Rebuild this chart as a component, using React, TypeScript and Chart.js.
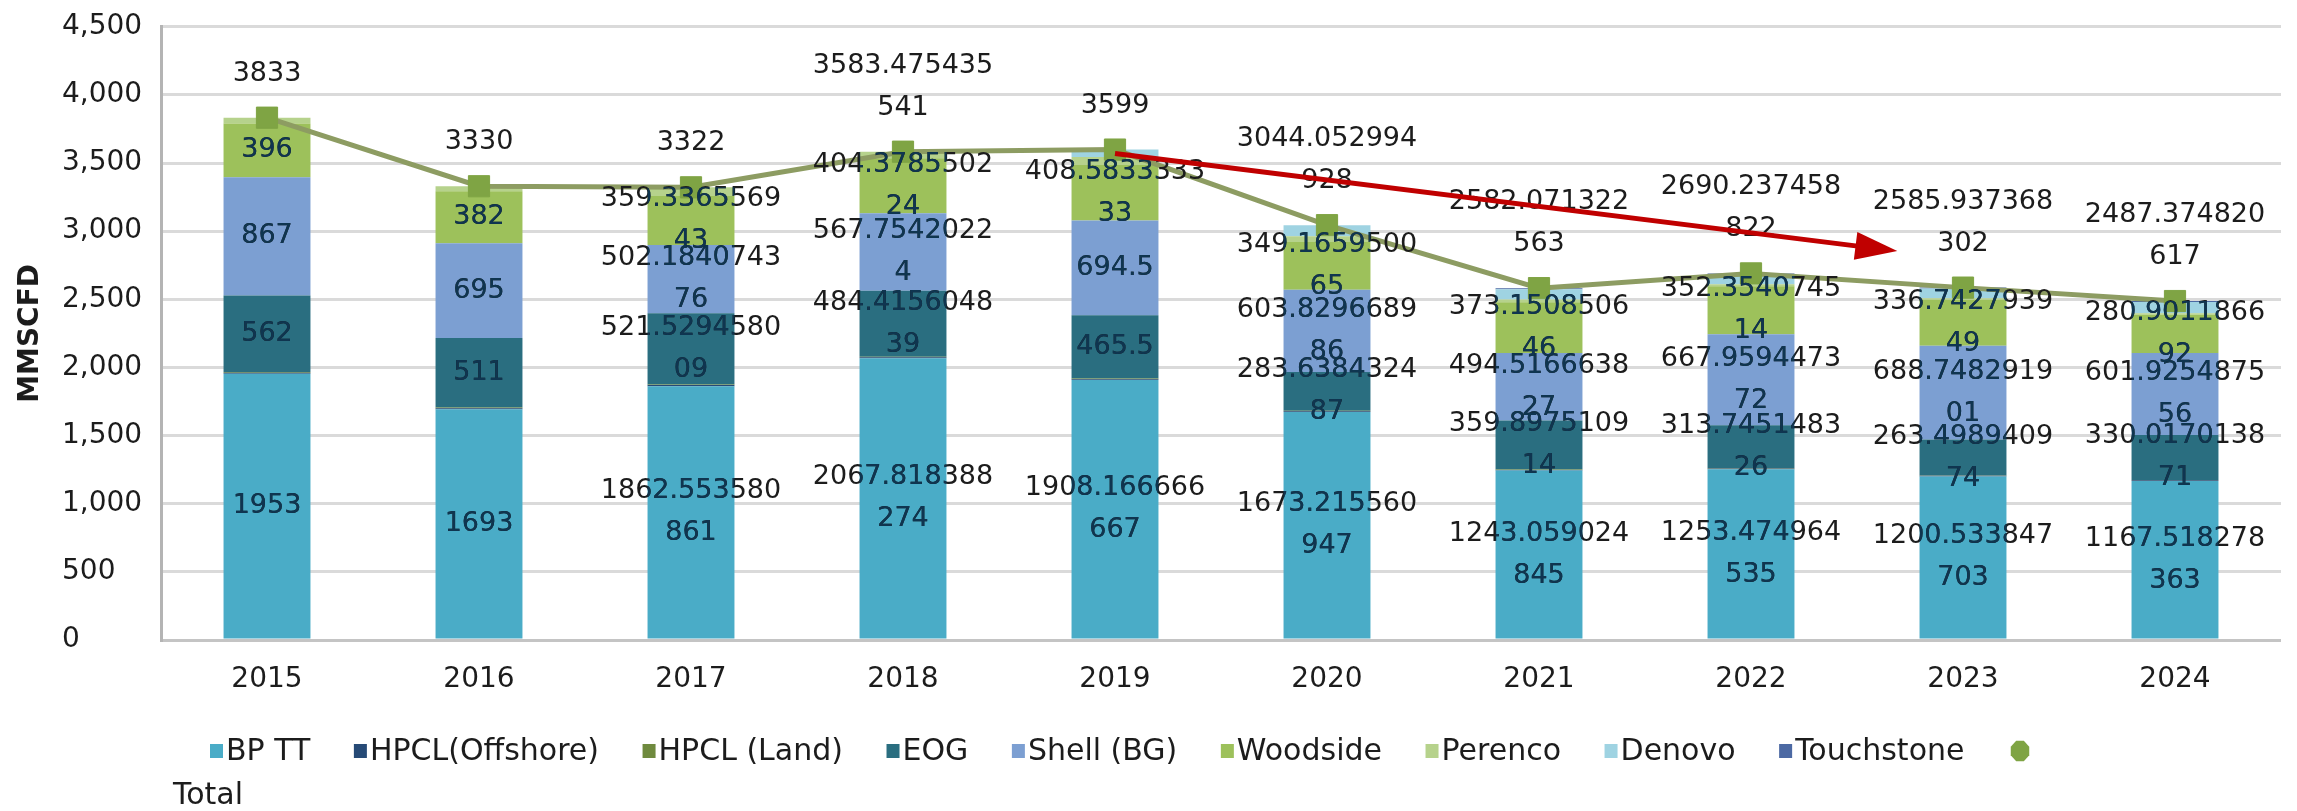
import { useEffect, useRef } from 'react';
import { Chart, registerables } from 'chart.js';

Chart.register(...registerables);

const YEARS = ['2015', '2016', '2017', '2018', '2019', '2020', '2021', '2022', '2023', '2024'];
const BP_TT = [1953, 1693, 1862.553580861, 2067.818388274, 1908.166666667, 1673.215560947, 1243.059024845, 1253.474964535, 1200.533847703, 1167.518278363];
const HPCL_OFFSHORE = [8, 8, 8, 7, 6, 6, 5, 5, 4, 4];
const HPCL_LAND = [5, 5, 5, 4, 4, 4, 3, 3, 3, 3];
const EOG = [562, 511, 521.529458009, 484.415604839, 465.5, 283.638432487, 359.897510914, 313.745148326, 263.498940974, 330.017013871];
const SHELL_BG = [867, 695, 502.184074376, 567.75420224, 694.5, 603.829668986, 494.516663827, 667.959447372, 688.748291901, 601.925487556];
const WOODSIDE = [396, 382, 359.336556943, 404.378550224, 408.583333333, 349.165950065, 373.150850646, 352.354074514, 336.742793949, 280.901186692];
const PERENCO = [42, 36, 63.4, 48.1, 57, 44, 20, 15, 12, 10];
const DENOVO = [0, 0, 0, 0, 55, 80.2, 75.4, 71.7, 70.4, 82.5];
const TOUCHSTONE = [0, 0, 0, 0, 0, 0, 8, 8, 7, 7.5];
const TOTAL = [3833, 3330, 3322, 3583.475435541, 3599, 3044.052994928, 2582.071322563, 2690.237458822, 2585.937368302, 2487.374820617];

const Y_TICKS = [0, 500, 1000, 1500, 2000, 2500, 3000, 3500, 4000, 4500];
const Y_TITLE = 'MMSCFD';

// trend arrow annotation in data space: [category index, value]
const ARROW_FROM = [4.0, 3570];
const ARROW_TO = [7.69, 2854];

const SERIES = [
  { label: 'BP TT', data: BP_TT, color: '#4aacc7', labelled: true },
  { label: 'HPCL(Offshore)', data: HPCL_OFFSHORE, color: '#264a76', labelled: false },
  { label: 'HPCL (Land)', data: HPCL_LAND, color: '#6f8a3e', labelled: false },
  { label: 'EOG', data: EOG, color: '#2a6e80', labelled: true },
  { label: 'Shell (BG)', data: SHELL_BG, color: '#7c9fd2', labelled: true },
  { label: 'Woodside', data: WOODSIDE, color: '#9dc15b', labelled: true },
  { label: 'Perenco', data: PERENCO, color: '#b6d28c', labelled: false },
  { label: 'Denovo', data: DENOVO, color: '#9fd3e2', labelled: false },
  { label: 'Touchstone', data: TOUCHSTONE, color: '#4c69a3', labelled: false },
];

const LINE_COLOR = '#8d9c62';
const MARKER_COLOR = '#7fa444';
const FONT = '"DejaVu Sans", "Liberation Sans", sans-serif';
const WRAP = 11;
const LH = 42;

function wrapLabel(v: number): string[] {
  const s = String(v);
  const out: string[] = [];
  for (let i = 0; i < s.length; i += WRAP) out.push(s.slice(i, i + WRAP));
  return out;
}

const labelPlugin = {
  id: 'valueLabels',
  afterDatasetsDraw(chart: any) {
    const { ctx, chartArea, scales } = chart;
    const yScale = scales.y;
    const xScale = scales.x;
    ctx.save();
    ctx.font = `27px ${FONT}`;
    ctx.textAlign = 'center';
    ctx.textBaseline = 'middle';
    SERIES.forEach((s, di) => {
      if (!s.labelled) return;
      const meta = chart.getDatasetMeta(di);
      meta.data.forEach((bar: any, i: number) => {
        const p = bar.getProps(['x', 'y', 'base', 'width'], true);
        const cy = (p.y + p.base) / 2;
        const lines = wrapLabel(s.data[i]);
        const y0 = cy - ((lines.length - 1) * LH) / 2;
        ctx.fillStyle = '#1c1c1c';
        lines.forEach((l, k) => ctx.fillText(l, p.x, y0 + k * LH));
        ctx.save();
        ctx.beginPath();
        const topY = yScale.getPixelForValue(TOTAL[i]);
        ctx.rect(p.x - p.width / 2, topY, p.width, chartArea.bottom - topY);
        ctx.clip();
        ctx.fillStyle = '#0f3550';
        lines.forEach((l, k) => ctx.fillText(l, p.x, y0 + k * LH));
        ctx.restore();
      });
    });
    // total labels
    const lmeta = chart.getDatasetMeta(SERIES.length);
    lmeta.data.forEach((pt: any, i: number) => {
      const lines = wrapLabel(TOTAL[i]);
      const last = pt.y - 44;
      ctx.fillStyle = '#1c1c1c';
      lines.forEach((l, k) => ctx.fillText(l, pt.x, last - (lines.length - 1 - k) * LH));
    });
    // red arrow
    const x1 = xScale.getPixelForValue(ARROW_FROM[0]);
    const y1 = yScale.getPixelForValue(ARROW_FROM[1]);
    const x2 = xScale.getPixelForValue(ARROW_TO[0]);
    const y2 = yScale.getPixelForValue(ARROW_TO[1]);
    const ang = Math.atan2(y2 - y1, x2 - x1);
    const headLen = 42;
    const headHalf = 14;
    const bx = x2 - Math.cos(ang) * headLen;
    const by = y2 - Math.sin(ang) * headLen;
    ctx.strokeStyle = '#c00000';
    ctx.fillStyle = '#c00000';
    ctx.lineWidth = 5;
    ctx.beginPath();
    ctx.moveTo(x1, y1);
    ctx.lineTo(bx + Math.cos(ang) * 4, by + Math.sin(ang) * 4);
    ctx.stroke();
    ctx.beginPath();
    ctx.moveTo(x2, y2);
    ctx.lineTo(bx + Math.sin(ang) * headHalf, by - Math.cos(ang) * headHalf);
    ctx.lineTo(bx - Math.sin(ang) * headHalf, by + Math.cos(ang) * headHalf);
    ctx.closePath();
    ctx.fill();
    ctx.restore();
  },
  afterDraw(chart: any) {
    const { ctx, chartArea } = chart;
    ctx.save();
    // y axis title
    ctx.translate(31, (chartArea.top + chartArea.bottom) / 2);
    ctx.rotate(-Math.PI / 2);
    ctx.font = `bold 28px ${FONT}`;
    ctx.fillStyle = '#1c1c1c';
    ctx.textAlign = 'center';
    ctx.textBaseline = 'middle';
    ctx.fillText(Y_TITLE, 0, 0);
    ctx.restore();

    // legend
    ctx.save();
    ctx.font = `30px ${FONT}`;
    ctx.textBaseline = 'middle';
    ctx.textAlign = 'left';
    const rowY = 751;
    const startX = 210;
    const markerX = 2020;
    const widths = SERIES.map((s) => 16 + ctx.measureText(s.label).width);
    const sum = widths.reduce((a, b) => a + b, 0);
    const gap = (markerX - 12 - startX - sum) / SERIES.length;
    let x = startX;
    SERIES.forEach((s, i) => {
      ctx.fillStyle = s.color;
      ctx.fillRect(x, rowY - 7, 13, 14);
      ctx.fillStyle = '#1c1c1c';
      ctx.fillText(s.label, x + 16, rowY + 1);
      x += widths[i] + gap;
    });
    ctx.fillStyle = MARKER_COLOR;
    ctx.beginPath();
    const r = 10;
    for (let k = 0; k < 8; k++) {
      const a = Math.PI / 8 + (k * Math.PI) / 4;
      const px = markerX + Math.cos(a) * r;
      const py = rowY + Math.sin(a) * r * 1.1;
      if (k === 0) ctx.moveTo(px, py);
      else ctx.lineTo(px, py);
    }
    ctx.closePath();
    ctx.fill();
    ctx.fillStyle = '#1c1c1c';
    ctx.fillText('Total', 173, 796);
    ctx.restore();
  },
};

export default function App() {
  const ref = useRef<HTMLCanvasElement | null>(null);
  useEffect(() => {
    document.body.style.margin = '0';
    const canvas = ref.current;
    if (!canvas) return;
    const datasets: any[] = SERIES.map((s) => ({
      type: 'bar',
      label: s.label,
      data: s.data,
      backgroundColor: s.color,
      borderWidth: 0,
      barPercentage: 0.41,
      categoryPercentage: 1.0,
      stack: 'bars',
      order: 1,
    }));
    datasets.push({
      type: 'line',
      label: 'Total',
      data: TOTAL,
      borderColor: LINE_COLOR,
      borderWidth: 5,
      pointStyle: 'rect',
      pointRadius: 15,
      pointBackgroundColor: MARKER_COLOR,
      pointBorderColor: MARKER_COLOR,
      pointBorderWidth: 1,
      tension: 0,
      stack: 'total',
      order: 0,
    });
    const chart = new Chart(canvas, {
      type: 'bar',
      data: { labels: YEARS, datasets },
      options: {
        responsive: false,
        animation: false,
        devicePixelRatio: 1,
        layout: { padding: { left: 62, right: 13, top: 22, bottom: 0 } },
        plugins: { legend: { display: false }, tooltip: { enabled: false }, title: { display: false } },
        scales: {
          x: {
            stacked: true,
            grid: { display: false, drawTicks: false },
            border: { display: false },
            ticks: { font: { family: FONT, size: 28 }, color: '#1c1c1c', padding: 23 },
            afterFit: (scale: any) => {
              scale.height = 171;
            },
          },
          y: {
            stacked: true,
            min: 0,
            max: 4500,
            afterBuildTicks: (scale: any) => {
              scale.ticks = Y_TICKS.map((v) => ({ value: v }));
            },
            grid: {
              color: (c: any) => (c.tick && c.tick.value === 0 ? '#c4c4c4' : '#dadada'),
              lineWidth: 3,
              drawTicks: false,
            },
            border: { display: true, color: '#b4b4b4', width: 3 },
            ticks: {
              font: { family: FONT, size: 28 },
              color: '#1c1c1c',
              crossAlign: 'far',
              padding: 10,
              callback: (v: any) => Number(v).toLocaleString('en-US'),
            },
            afterFit: (scale: any) => {
              scale.width = 99;
            },
          },
        },
      } as any,
      plugins: [labelPlugin],
    });
    return () => chart.destroy();
  }, []);
  return (
    <div style={{ width: 2297, height: 811, background: '#fff' }}>
      <canvas ref={ref} width={2297} height={811} style={{ display: 'block', width: 2297, height: 811 }} />
    </div>
  );
}
